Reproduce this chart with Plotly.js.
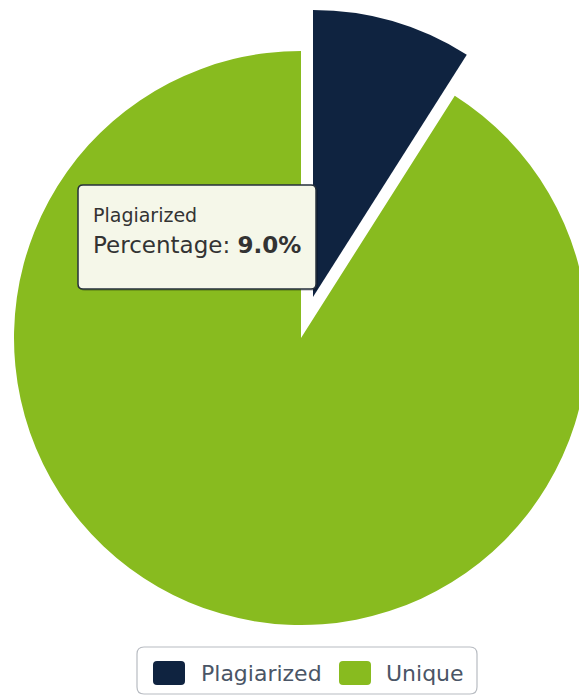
<!DOCTYPE html>
<html>
<head>
<meta charset="utf-8">
<script src="https://cdn.plot.ly/plotly-3.0.1.min.js"></script>
<style>
  html, body { margin: 0; padding: 0; overflow: hidden; background: #ffffff; }
  #chart { width: 620px; height: 697px; }
</style>
</head>
<body>
<div id="chart"></div>
<script>
// ---- data ----
const categories = ['Plagiarized', 'Unique'];
const percentages = [9.0, 91.0];
const sliceColors = ['#0f2340', '#88bb1f'];
const highlighted = 0; // slice pulled out and shown in tooltip

// ---- layout helpers (pixel -> paper) ----
const W = 620, H = 697;
const px = x => x / W;
const py = y => (H - y) / H;

const transparent = 'rgba(0,0,0,0)';
// main pie (non-highlighted slices)
const mainColors = sliceColors.map((c, i) => i === highlighted ? transparent : c);
// pulled-out slice drawn by second pie with shifted domain
const pulledColors = sliceColors.map((c, i) => i === highlighted ? c : transparent);

const common = {
  type: 'pie',
  labels: categories,
  values: percentages,
  sort: false,
  direction: 'clockwise',
  rotation: 0,
  textinfo: 'none',
  hoverinfo: 'skip',
  showlegend: false
};

const traces = [
  Object.assign({}, common, {
    marker: { colors: mainColors, line: { width: 0 } },
    domain: { x: [px(14), px(588)], y: [py(625), py(51)] }
  }),
  Object.assign({}, common, {
    marker: { colors: pulledColors, line: { width: 0 } },
    domain: { x: [px(26), px(600)], y: [py(584), py(10)] }
  })
];

function roundRect(x0, y0, x1, y1, r) {
  const X = v => px(v), Y = v => py(v);
  return `M${X(x0 + r)},${Y(y0)} L${X(x1 - r)},${Y(y0)} Q${X(x1)},${Y(y0)} ${X(x1)},${Y(y0 + r)} ` +
         `L${X(x1)},${Y(y1 - r)} Q${X(x1)},${Y(y1)} ${X(x1 - r)},${Y(y1)} ` +
         `L${X(x0 + r)},${Y(y1)} Q${X(x0)},${Y(y1)} ${X(x0)},${Y(y1 - r)} ` +
         `L${X(x0)},${Y(y0 + r)} Q${X(x0)},${Y(y0)} ${X(x0 + r)},${Y(y0)} Z`;
}

// legend drawn manually (large rounded swatches)
const legendItems = [
  { sw: [153, 661, 185, 685], tx: 199 },
  { sw: [339, 661, 371, 685], tx: 384 }
];

const shapes = [
  { type: 'path', xref: 'paper', yref: 'paper', path: roundRect(137, 647, 477, 694, 7),
    line: { color: '#b8bcc2', width: 1.2 }, fillcolor: '#ffffff' }
];
const annotations = [];
legendItems.forEach((it, i) => {
  shapes.push({ type: 'path', xref: 'paper', yref: 'paper',
    path: roundRect(it.sw[0], it.sw[1], it.sw[2], it.sw[3], 4),
    line: { width: 0 }, fillcolor: sliceColors[i] });
  annotations.push({ xref: 'paper', yref: 'paper', x: px(it.tx), y: py(673),
    xanchor: 'left', yanchor: 'middle', showarrow: false, text: categories[i],
    font: { family: 'DejaVu Sans, Verdana, sans-serif', size: 22, color: '#4a5566' } });
});

// tooltip box (shadow + box)
shapes.push({ type: 'path', xref: 'paper', yref: 'paper', path: roundRect(80, 187, 318, 291, 5),
  line: { width: 0 }, fillcolor: 'rgba(0,0,0,0.18)' });
shapes.push({ type: 'path', xref: 'paper', yref: 'paper', path: roundRect(78, 185, 316, 289, 5),
  line: { color: '#26303c', width: 1.5 }, fillcolor: '#f5f7e9' });
annotations.push({
  xref: 'paper', yref: 'paper', x: px(91), y: py(215), xanchor: 'left', yanchor: 'middle',
  showarrow: false, text: categories[highlighted],
  font: { family: 'DejaVu Sans, Verdana, sans-serif', size: 19, color: '#333333' }
});
annotations.push({
  xref: 'paper', yref: 'paper', x: px(91), y: py(245), xanchor: 'left', yanchor: 'middle',
  showarrow: false, text: `Percentage: <b>${percentages[highlighted].toFixed(1)}%</b>`,
  font: { family: 'DejaVu Sans, Verdana, sans-serif', size: 23, color: '#333333' }
});

const layout = {
  width: W, height: H, autosize: false,
  margin: { l: 0, r: 0, t: 0, b: 0, pad: 0 },
  paper_bgcolor: '#ffffff', plot_bgcolor: '#ffffff',
  showlegend: false,
  shapes: shapes,
  annotations: annotations
};

Plotly.newPlot('chart', traces, layout, { displayModeBar: false, staticPlot: true });
</script>
</body>
</html>
